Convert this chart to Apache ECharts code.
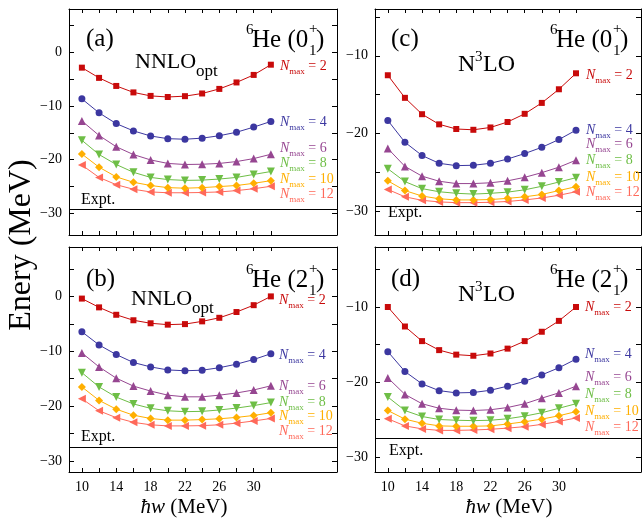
<!DOCTYPE html>
<html><head><meta charset="utf-8">
<script src="https://cdn.jsdelivr.net/npm/echarts@6/dist/echarts.min.js"></script>
<style>html,body{margin:0;padding:0;background:#fff}#c{width:644px;height:521px}</style>
</head><body><div id="c"></div>
<script>
// hbar*omega values (MeV)
const hw = [10,12,14,16,18,20,22,24,26,28,30,32];
const nmax = [2,4,6,8,10,12];
const xTickLabels = [10,14,18,22,26,30];

// (a) NNLOopt 6He(0+1)
const a2  = [-2.9,-4.8,-6.3,-7.5,-8.15,-8.35,-8.2,-7.7,-6.85,-5.65,-4.25,-2.35];
const a4  = [-8.7,-11.3,-13.3,-14.65,-15.6,-16.1,-16.2,-16.0,-15.55,-14.9,-13.95,-12.9];
const a6  = [-12.8,-15.5,-17.6,-19.05,-20.05,-20.7,-20.9,-20.85,-20.7,-20.35,-19.8,-19.0];
const a8  = [-16.4,-19.05,-20.9,-22.35,-23.3,-23.7,-23.85,-23.8,-23.6,-23.3,-22.75,-22.2];
const a10 = [-18.95,-21.4,-23.2,-24.2,-24.8,-25.2,-25.3,-25.2,-25.0,-24.8,-24.4,-23.9];
const a12 = [-21.0,-23.3,-24.65,-25.5,-26.0,-26.15,-26.15,-26.1,-26.0,-25.75,-25.4,-24.95];
// (b) NNLOopt 6He(2+1)
const b2  = [-0.4,-2.0,-3.35,-4.35,-4.9,-5.15,-5.05,-4.55,-3.9,-2.85,-1.6,0.0];
const b4  = [-6.45,-8.85,-10.6,-12.05,-12.85,-13.4,-13.55,-13.45,-13.0,-12.35,-11.5,-10.45];
const b6  = [-10.3,-12.85,-14.9,-16.35,-17.25,-18.0,-18.3,-18.3,-18.0,-17.6,-17.05,-16.3];
const b8  = [-13.9,-16.5,-18.35,-19.6,-20.4,-20.85,-21.0,-20.95,-20.7,-20.35,-19.9,-19.35];
const b10 = [-16.5,-18.95,-20.55,-21.65,-22.25,-22.55,-22.55,-22.45,-22.3,-22.05,-21.7,-21.2];
const b12 = [-18.65,-20.85,-22.1,-22.95,-23.4,-23.6,-23.6,-23.55,-23.4,-23.1,-22.7,-22.25];
// (c) N3LO 6He(0+1)
const c2  = [-12.5,-15.4,-17.5,-18.8,-19.4,-19.5,-19.2,-18.5,-17.45,-16.05,-14.3,-12.25];
const c4  = [-18.3,-21.1,-22.8,-23.8,-24.1,-24.05,-23.8,-23.25,-22.55,-21.75,-20.75,-19.55];
const c6  = [-21.9,-24.2,-25.45,-26.1,-26.4,-26.4,-26.3,-26.05,-25.6,-25.0,-24.3,-23.4];
const c8  = [-24.5,-26.15,-27.05,-27.45,-27.65,-27.75,-27.65,-27.5,-27.2,-26.75,-26.2,-25.65];
const c10 = [-26.05,-27.3,-28.0,-28.35,-28.5,-28.5,-28.45,-28.3,-28.1,-27.8,-27.3,-26.8];
const c12 = [-27.15,-28.1,-28.55,-28.75,-28.85,-28.85,-28.8,-28.7,-28.5,-28.25,-27.9,-27.45];
// (d) N3LO 6He(2+1)
const d2  = [-10.0,-12.6,-14.55,-15.75,-16.35,-16.5,-16.2,-15.55,-14.55,-13.3,-11.85,-10.0];
const d4  = [-15.95,-18.6,-20.25,-21.15,-21.45,-21.4,-21.1,-20.55,-19.9,-19.05,-18.1,-16.95];
const d6  = [-19.45,-21.65,-22.9,-23.5,-23.75,-23.8,-23.7,-23.4,-22.9,-22.15,-21.45,-20.55];
const d8  = [-22.0,-23.8,-24.6,-25.0,-25.1,-25.15,-25.1,-24.9,-24.55,-24.1,-23.5,-22.9];
const d10 = [-23.8,-24.95,-25.5,-25.85,-25.9,-25.9,-25.85,-25.6,-25.3,-24.95,-24.5,-23.95];
const d12 = [-24.9,-25.85,-26.25,-26.45,-26.45,-26.4,-26.3,-26.15,-25.95,-25.65,-25.25,-24.8];

const expt0 = -29.27;  // 6He 0+ experimental
const expt2 = -27.47;  // 6He 2+ experimental

const yTicksAB = [-30,-25,-20,-15,-10,-5,0,5];
const yLabelsAB = [-30,-20,-10,0];
const yTicksCD = [-30,-25,-20,-15,-10,-5];
const yLabelsCD = [-30,-20,-10];

const colors = ['#c80a0a','#3c37a0','#964691','#6ebe46','#ffaf00','#ff695a'];
const symbols = ['rect','circle','triangle','triangle','diamond','triangle'];
const rotates = [0,0,0,180,0,90];
const sizes = [6,7,8,8,8,8];
const FONT = 'Liberation Serif';

const panels = [
  {grid:{left:69,top:9,width:268,height:226}, ymin:-34, ymax:8, ticks:yTicksAB, labels:yLabelsAB, data:[a2,a4,a6,a8,a10,a12], expt:expt0, xl:false, xmax:39.7},
  {grid:{left:69,top:247,width:268,height:225}, ymin:-32, ymax:9, ticks:yTicksAB, labels:yLabelsAB, data:[b2,b4,b6,b8,b10,b12], expt:expt2, xl:true, xmax:39.7},
  {grid:{left:375,top:9,width:266,height:226}, ymin:-33, ymax:-4, ticks:yTicksCD, labels:yLabelsCD, data:[c2,c4,c6,c8,c10,c12], expt:expt0, xl:false, xmax:39.6},
  {grid:{left:375,top:247,width:266,height:225}, ymin:-32, ymax:-2, ticks:yTicksCD, labels:yLabelsCD, data:[d2,d4,d6,d8,d10,d12], expt:expt2, xl:true, xmax:39.6}
];

const lineBlack = {color:'#000', width:1};
const grids = [], xAxes = [], yAxes = [], series = [];
panels.forEach((p, i) => {
  grids.push(Object.assign({containLabel:false}, p.grid));
  ['bottom','top'].forEach((pos, k) => {
    xAxes.push({type:'value', gridIndex:i, min:8.5, max:p.xmax, position:pos,
      axisLine:{show:true, onZero:false, lineStyle:lineBlack},
      axisTick:{show:true, inside:true, length:4, customValues:hw, lineStyle:lineBlack},
      axisLabel:{show:(k===0 && p.xl), customValues:xTickLabels, fontFamily:FONT, fontSize:14, color:'#000', margin:8},
      splitLine:{show:false}});
  });
  ['left','right'].forEach((pos, k) => {
    yAxes.push({type:'value', gridIndex:i, min:p.ymin, max:p.ymax, position:pos,
      axisLine:{show:true, onZero:false, lineStyle:lineBlack},
      axisTick:{show:true, inside:true, length:5, customValues:p.ticks, lineStyle:lineBlack},
      axisLabel:{show:k===0, customValues:p.labels, fontFamily:FONT, fontSize:14, color:'#000', margin:7,
        formatter:v => String(v).replace('-', '\u2212')},
      splitLine:{show:false}});
  });
  p.data.forEach((vals, j) => {
    const s = {type:'line', xAxisIndex:2*i, yAxisIndex:2*i, name:'Nmax='+nmax[j],
      data: hw.map((x, m) => [x, vals[m]]),
      symbol:symbols[j], symbolSize:sizes[j], symbolRotate:rotates[j], showAllSymbol:true,
      lineStyle:{color:colors[j], width:1}, itemStyle:{color:colors[j]},
      silent:true, z:10-j};
    if (j === 0) {
      s.markLine = {silent:true, symbol:'none', label:{show:false}, animation:false,
        lineStyle:{color:'#000', width:1, type:'solid'}, data:[{yAxis:p.expt}]};
    }
    series.push(s);
  });
});

// text annotations
const G = [];
function t(x, y, text, size, extra) {
  G.push(Object.assign({type:'text', x:x, y:y, z:100, silent:true,
    style:Object.assign({text:text, fontFamily:FONT, fontSize:size, fill:'#000', align:'left', verticalAlign:'middle'}, extra || {})}));
}
function heLabel(x0, y0, state) {
  t(x0, y0-10, '6', 15);
  t(x0+6, y0, 'He (' + state, 25);
  t(x0+63, y0-11, '+', 15);
  t(x0+63, y0+11, '1', 15);
  t(x0+70, y0, ')', 25);
}
// panel letters
t(86, 39, '(a)', 25); t(86, 279, '(b)', 25);
t(391, 39, '(c)', 25); t(391, 279, '(d)', 25);
heLabel(246, 40, '0'); heLabel(246, 280, '2');
heLabel(550, 40, '0'); heLabel(550, 280, '2');
// interaction names
function nnlo(x, y) { t(x, y, 'NNLO', 22); t(x+61, y+10, 'opt', 17); }
function n3lo(x, y) { t(x, y, 'N', 24); t(x+17, y-8, '3', 15); t(x+25, y, 'LO', 24); }
nnlo(135, 62); nnlo(131, 299);
n3lo(458, 65); n3lo(458, 295);
// Expt.
t(81, 200, 'Expt.', 16); t(81, 437, 'Expt.', 16);
t(388, 213, 'Expt.', 16); t(389, 451, 'Expt.', 16);
// Nmax labels
const rich = {
  n:{fontFamily:FONT, fontSize:14, fontStyle:'italic', lineHeight:20, verticalAlign:'middle'},
  s:{fontFamily:FONT, fontSize:9, lineHeight:9, verticalAlign:'bottom'},
  r:{fontFamily:FONT, fontSize:14, lineHeight:20, verticalAlign:'middle'}
};
function nm(x, y, j) {
  const rr = {};
  Object.keys(rich).forEach(k => { rr[k] = Object.assign({}, rich[k], {color:colors[j]}); });
  G.push({type:'text', x:x, y:y, z:100, silent:true,
    style:{text:'{n|N}{s|max}{r| = ' + nmax[j] + '}', rich:rr, align:'left', verticalAlign:'middle', fill:colors[j]}});
}
const labYa = [66,122,148,163,179,194];
const labYb = [300,355,386,402,416,431];
const labYc = [75,130,144,160,177,192];
const labYd = [307,354,377,394,411,427];
for (let j = 0; j < 6; j++) {
  nm(280, labYa[j], j); nm(279, labYb[j], j);
  nm(586, labYc[j], j); nm(585, labYd[j], j);
}
// axis titles
G.push({type:'text', x:22, y:245, rotation:Math.PI/2, z:100, silent:true,
  style:{text:'Enery (MeV)', fontFamily:FONT, fontSize:32, fill:'#000', align:'center', verticalAlign:'middle'}});
function xt(cx) {
  G.push({type:'text', x:cx, y:507, z:100, silent:true,
    style:{text:'{i|\u0127w}{r| (MeV)}', align:'center', verticalAlign:'middle',
      rich:{i:{fontFamily:FONT, fontSize:21, fontStyle:'italic', color:'#000'}, r:{fontFamily:FONT, fontSize:21, color:'#000'}}}});
}
xt(184); xt(509);

const chart = echarts.init(document.getElementById('c'), null, {renderer:'canvas'});
chart.setOption({animation:false, backgroundColor:'#fff', grid:grids, xAxis:xAxes, yAxis:yAxes, series:series, graphic:G});
</script></body></html>
